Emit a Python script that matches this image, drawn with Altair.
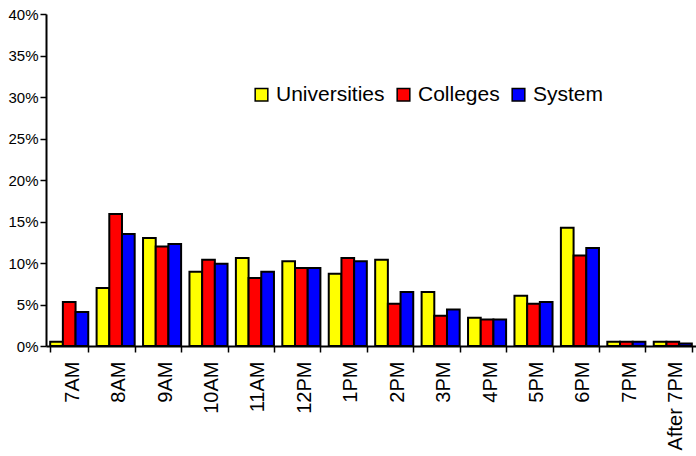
import altair as alt
import pandas as pd

# Share of class starts by time slot
slots = ["7AM", "8AM", "9AM", "10AM", "11AM", "12PM", "1PM", "2PM",
         "3PM", "4PM", "5PM", "6PM", "7PM", "After 7PM"]
series = ["Universities", "Colleges", "System"]
colors = ["#FFFF00", "#FF0000", "#0000FF"]

universities = [0.5, 7.0, 13.0, 8.95, 10.6, 10.2, 8.7, 10.4, 6.5, 3.4, 6.05, 14.25, 0.5, 0.5]
colleges = [5.3, 15.9, 12.0, 10.4, 8.2, 9.4, 10.6, 5.1, 3.65, 3.2, 5.1, 10.9, 0.5, 0.5]
system = [4.1, 13.5, 12.3, 9.9, 8.95, 9.4, 10.2, 6.5, 4.4, 3.2, 5.3, 11.8, 0.5, 0.3]

rows = []
for name, vals in zip(series, [universities, colleges, system]):
    for slot, v in zip(slots, vals):
        rows.append({"slot": slot, "series": name, "share": v / 100})
df = pd.DataFrame(rows)

FONT = "Liberation Sans"

chart = alt.Chart(df).mark_bar(stroke="black", strokeWidth=2).encode(
    x=alt.X(
        "slot:N",
        sort=slots,
        scale=alt.Scale(paddingInner=0.18, paddingOuter=0.09),
        axis=alt.Axis(
            title=None, labelAngle=-90, labelFontSize=20, labelFont=FONT,
            labelColor="black", labelPadding=9, labelOffset=3,
            tickBand="extent", tickSize=6, tickColor="black", tickWidth=1.5,
            domainColor="black", domainWidth=2, grid=False,
        ),
    ),
    xOffset=alt.XOffset("series:N", sort=series,
                        scale=alt.Scale(paddingInner=0, paddingOuter=0)),
    y=alt.Y(
        "share:Q",
        scale=alt.Scale(domain=[0, 0.4], nice=False),
        axis=alt.Axis(
            title=None, format=".0%", values=[i * 0.05 for i in range(9)],
            labelFontSize=15, labelFont=FONT, labelColor="black",
            labelPadding=2, tickSize=6, tickColor="black", tickWidth=1.5,
            domainColor="black", domainWidth=2, grid=False,
        ),
    ),
    color=alt.Color(
        "series:N",
        sort=series,
        scale=alt.Scale(domain=series, range=colors),
        legend=alt.Legend(
            title=None, orient="none", direction="horizontal",
            legendX=205, legendY=70, padding=0,
            symbolType="square", symbolSize=160, symbolStrokeColor="black",
            symbolStrokeWidth=1.5, symbolOpacity=1,
            labelFontSize=21, labelFont=FONT, labelColor="black",
            labelOffset=4, columnPadding=8,
        ),
    ),
).properties(
    width=650,
    height=332,
    autosize=alt.AutoSizeParams(type="none"),
    padding={"left": 46, "top": 14, "right": 0, "bottom": 110},
).configure(background="white").configure_view(stroke="transparent", strokeWidth=0)

chart.save("out.html", embed_options={"renderer": "svg", "actions": False})
